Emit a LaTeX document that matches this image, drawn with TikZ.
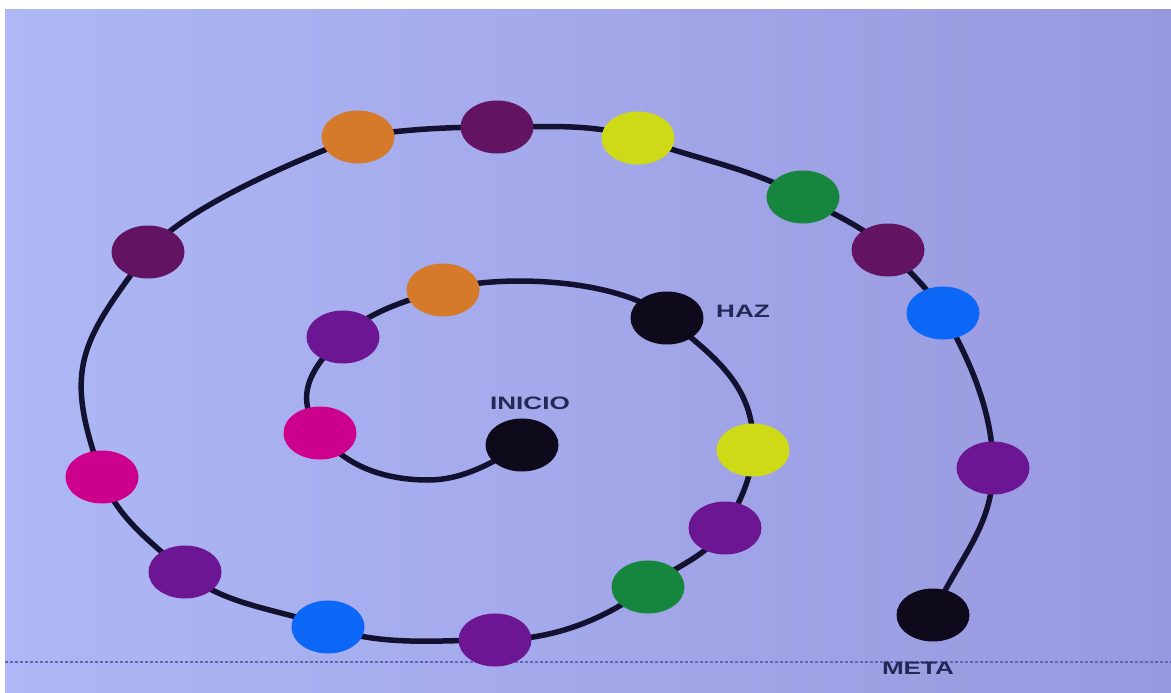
\documentclass[tikz,border=0pt]{standalone}
\usepackage{fontspec}
\setmainfont{Liberation Sans}
\usetikzlibrary{shapes.geometric}
\definecolor{bgL}{RGB}{174,184,246}
\definecolor{bgR}{RGB}{152,152,222}
\definecolor{linec}{RGB}{18,18,48}
\definecolor{labelc}{RGB}{36,40,86}
\definecolor{dashc}{RGB}{95,100,185}
\definecolor{cblack}{RGB}{14,10,28}
\definecolor{cviolet}{RGB}{108,22,148}
\definecolor{cdark}{RGB}{98,20,98}
\definecolor{cmag}{RGB}{204,0,140}
\definecolor{corange}{RGB}{212,122,42}
\definecolor{cyellow}{RGB}{206,218,24}
\definecolor{cgreen}{RGB}{22,134,62}
\definecolor{cblue}{RGB}{12,102,246}
\pgfdeclarelayer{bg}
\pgfdeclarelayer{lines}
\pgfsetlayers{bg,lines,main}
\begin{document}
\begin{tikzpicture}[x=1pt,y=-1pt,
  dot/.style={ellipse, minimum width=73pt, minimum height=53pt, inner sep=0pt, fill=#1},
  lbl/.style={font=\bfseries\fontsize{18}{18}\selectfont, text=labelc, xscale=1.45, inner sep=0pt},
  spiral/.style={draw=linec, line width=5.5pt, line cap=round, line join=round},
  dashline/.style={draw=dashc, line width=1.3pt, dash pattern=on 3pt off 2pt}]
\path[use as bounding box] (0,0) rectangle (1171,693);
\begin{pgfonlayer}{bg}
\fill[white] (0,0) rectangle (1171,693);
\shade[left color=bgL, right color=bgR] (5,10) rectangle (1171,693);
\end{pgfonlayer}
% nodes
\node[dot=cblack]  (inicio) at (522,445) {};
\node[dot=cmag]    (m1) at (320,433) {};
\node[dot=cviolet] (p1) at (343,337) {};
\node[dot=corange] (o1) at (443,290) {};
\node[dot=cblack]  (haz) at (667,318) {};
\node[dot=cyellow] (y1) at (753,450) {};
\node[dot=cviolet] (p2) at (725,528) {};
\node[dot=cgreen]  (g1) at (648,587) {};
\node[dot=cviolet] (p3) at (495,640) {};
\node[dot=cblue]   (bl1) at (328,627) {};
\node[dot=cviolet] (p4) at (185,572) {};
\node[dot=cmag]    (m2) at (102,477) {};
\node[dot=cdark]   (d1) at (148,252) {};
\node[dot=corange] (o2) at (358,137) {};
\node[dot=cdark]   (d2) at (497,127) {};
\node[dot=cyellow] (y2) at (638,138) {};
\node[dot=cgreen]  (g2) at (803,197) {};
\node[dot=cdark]   (d3) at (888,250) {};
\node[dot=cblue]   (bl2) at (943,313) {};
\node[dot=cviolet] (p5) at (993,468) {};
\node[dot=cblack]  (meta) at (933,615) {};
% waypoint of the path
\coordinate (w1) at (428,480);
% labels
\node[lbl] (tinicio) at (530,403) {INICIO};
\node[lbl] (thaz) at (743,311) {HAZ};
\node[lbl] (tmeta) at (918,668) {META};
% dashed line
\coordinate (dl1) at (5,662);
\coordinate (dl2) at (1171,662);
\begin{pgfonlayer}{bg}
\draw[dashline] (dl1) -- (dl2);
\end{pgfonlayer}
\begin{pgfonlayer}{lines}
\draw[spiral] (inicio.center)
  .. controls +(-30,18) and +(35,0) .. (w1)
  .. controls +(-42,0) and +(25,34) .. (m1.center)
  .. controls +(-27,-36) and +(-33,31) .. (p1.center)
  .. controls +(26,-26) and +(-35.5,10) .. (o1.center)
  .. controls +(58,-17) and +(-45,-39) .. (haz.center)
  .. controls +(45,37) and +(3,-65) .. (y1.center)
  .. controls +(-1.5,29) and +(14.5,-25) .. (p2.center)
  .. controls +(-16.5,28) and +(26,-20) .. (g1.center)
  .. controls +(-45,34) and +(56,0) .. (p3.center)
  .. controls +(-57,0) and +(53,20) .. (bl1.center)
  .. controls +(-48,-18) and +(39,34) .. (p4.center)
  .. controls +(-33,-29) and +(15,41) .. (m2.center)
  .. controls +(-39,-108) and +(-69,92) .. (d1.center)
  .. controls +(38,-46) and +(-56,21) .. (o2.center)
  .. controls +(44,-8) and +(-46,0) .. (d2.center)
  .. controls +(47,0) and +(-44,-15) .. (y2.center)
  .. controls +(53,20) and +(-51,-29) .. (g2.center)
  .. controls +(28,16.5) and +(-23,-23) .. (d3.center)
  .. controls +(20,20) and +(-14,-24) .. (bl2.center)
  .. controls +(27.5,48) and +(0,-55) .. (p5.center)
  .. controls +(0,60) and +(24,-55) .. (meta.center);
\end{pgfonlayer}
\end{tikzpicture}
\end{document}
